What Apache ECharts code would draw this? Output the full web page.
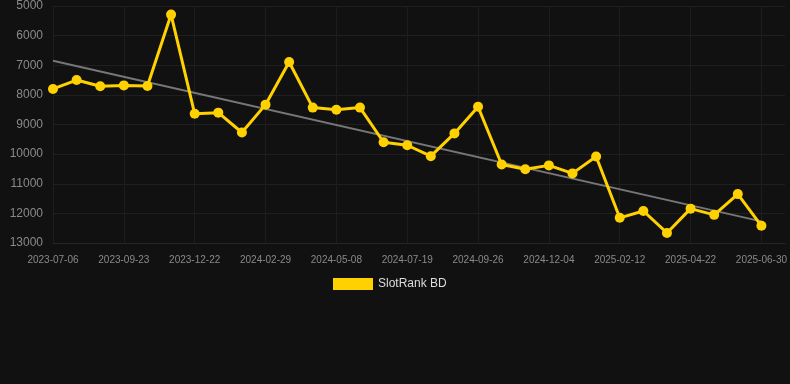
<!DOCTYPE html>
<html>
<head>
<meta charset="utf-8">
<script src="https://cdn.jsdelivr.net/npm/echarts@6/dist/echarts.min.js"></script>
<style>
html,body{margin:0;padding:0;background:#111111;}
#chart{width:790px;height:384px;}
</style>
</head>
<body>
<div id="chart"></div>
<script>
const categories = [
  '2023-07-06','2023-07-30','2023-08-27','2023-09-23','2023-10-24','2023-11-23',
  '2023-12-22','2024-01-15','2024-02-06','2024-02-29','2024-03-23','2024-04-15',
  '2024-05-08','2024-06-01','2024-06-25','2024-07-19','2024-08-11','2024-09-03',
  '2024-09-26','2024-10-19','2024-11-11','2024-12-04','2024-12-27','2025-01-20',
  '2025-02-12','2025-03-07','2025-03-30','2025-04-22','2025-05-15','2025-06-07',
  '2025-06-30','2025-07-23'
];
const rankValues = [
  7800, 7500, 7710, 7680, 7700, 5290,
  8640, 8600, 9270, 8330, 6890, 8430,
  8500, 8430, 9600, 9700, 10070, 9300,
  8400, 10350, 10510, 10380, 10650, 10080,
  12150, 11920, 12660, 11840, 12050, 11350,
  12420
];
const trendStart = ['2023-07-06', 6850];
const trendEnd = ['2025-06-30', 12270];
const yTicks = { min: 5000, max: 13000, interval: 1000 };
const seriesName = 'SlotRank BD';

const chart = echarts.init(document.getElementById('chart'), null, {renderer: 'canvas'});
chart.setOption({
  backgroundColor: '#111111',
  animation: false,
  textStyle: { fontFamily: 'Liberation Sans, Arial, sans-serif' },
  grid: { left: 53, right: 4, top: 6, bottom: 141, containLabel: false },
  legend: {
    data: [{ name: seriesName, icon: 'rect' }],
    top: 273,
    left: 328,
    itemWidth: 40,
    itemHeight: 12,
    itemGap: 10,
    textStyle: { color: '#dddddd', fontSize: 12 }
  },
  xAxis: {
    type: 'category',
    data: categories,
    boundaryGap: false,
    axisLine: { show: true, lineStyle: { color: '#262626' } },
    axisTick: { show: false },
    axisLabel: { color: '#8a8a8a', fontSize: 10, interval: 2, margin: 12 },
    splitLine: { show: true, interval: 2, lineStyle: { color: '#1d1d1d', width: 1 } }
  },
  yAxis: {
    type: 'value',
    inverse: true,
    min: yTicks.min,
    max: yTicks.max,
    interval: yTicks.interval,
    axisLine: { show: false },
    axisTick: { show: false },
    axisLabel: { color: '#8a8a8a', fontSize: 12, margin: 10, formatter: v => String(v) },
    splitLine: { show: true, lineStyle: { color: '#1f1f1f', width: 1 } }
  },
  series: [{
    name: seriesName,
    type: 'line',
    data: rankValues,
    symbol: 'circle',
    symbolSize: 10,
    lineStyle: { color: '#ffd100', width: 3 },
    itemStyle: { color: '#ffd100' },
    z: 3,
    markLine: {
      silent: true,
      symbol: ['none', 'none'],
      label: { show: false },
      lineStyle: { color: '#777777', width: 2, type: 'solid' },
      data: [[{ coord: trendStart }, { coord: trendEnd }]],
      z: 2
    }
  }]
});
</script>
</body>
</html>
